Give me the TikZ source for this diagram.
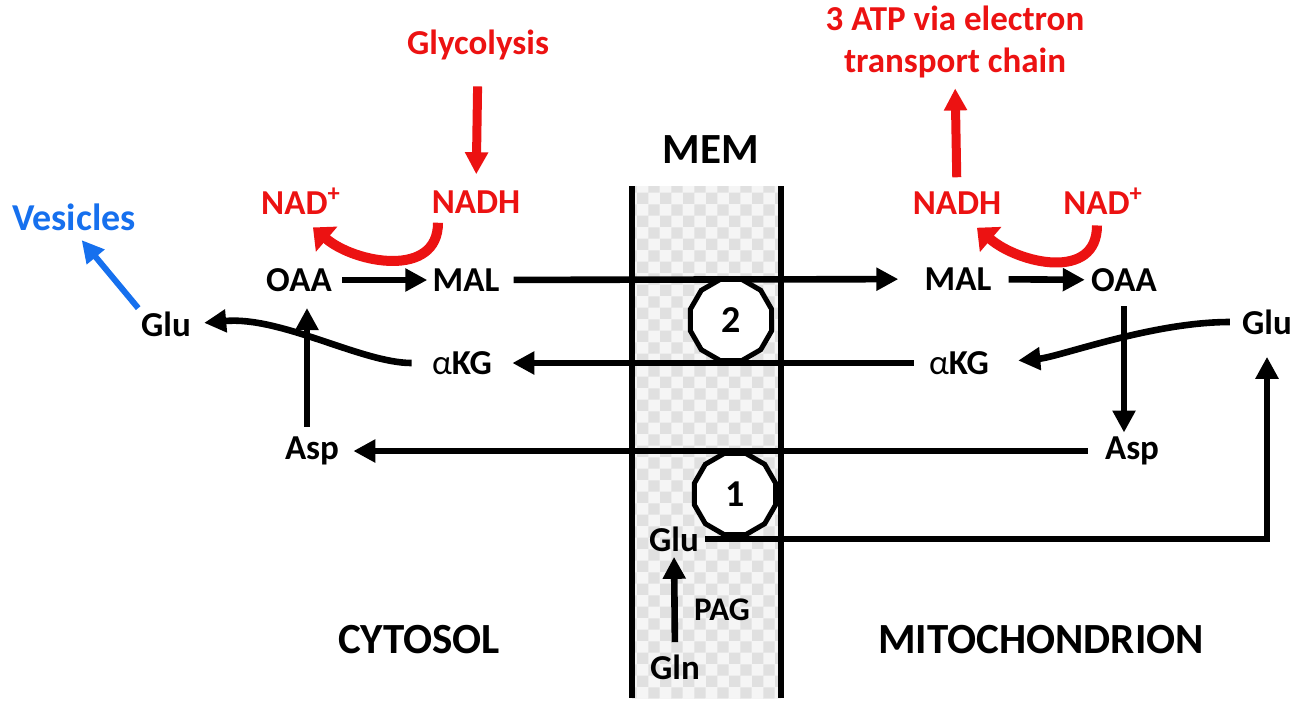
\documentclass[tikz,border=0pt]{standalone}
\usepackage{fontspec}
\setmainfont{Carlito}
\usepackage{tikz}
\usetikzlibrary{arrows.meta,patterns,shapes.geometric}

\definecolor{nadred}{RGB}{236,18,18}
\definecolor{vesblue}{RGB}{22,112,238}

\tikzset{
  met/.style={font=\bfseries\fontsize{17.5}{21}\selectfont, inner sep=0pt},
  redmet/.style={met, text=nadred},
  region/.style={font=\bfseries\fontsize{21.5}{24}\selectfont, inner sep=0pt},
  carrier/.style={draw, line width=2.5pt, fill=white, regular polygon, regular polygon sides=12,
    minimum size=42pt, inner sep=0pt, font=\bfseries\fontsize{19}{20}\selectfont},
  flux/.style={line width=3.3pt, -{Triangle[length=11pt,width=11pt]}},
  redflux/.style={flux, nadred, line width=4.5pt},
  redloop/.style={nadred, line width=5pt, -{Triangle[length=9pt,width=16pt]}},
}

\begin{document}
\begin{tikzpicture}[x=0.5pt,y=-0.5pt]
\useasboundingbox (0,0) rectangle (1300,709);

% membrane
\fill [gray!8] (632,186) rectangle (781,698);
\fill [pattern=checkerboard, pattern color=gray!24] (632,186) rectangle (781,698);
\draw [line width=3pt] (632,186) -- (632,698);
\draw [line width=3pt] (781,186) -- (781,698);

% labels
\node [redmet] (glyc) at (478,45) {Glycolysis};
\node [redmet, align=center] (atp) at (955,42) {3 ATP via electron\\transport chain};
\node [region] (mem) at (711,150) {MEM};
\node [redmet] (nadl) at (301,201) {NAD\textsuperscript{+}};
\node [redmet] (nadhl) at (476,202) {NADH};
\node [redmet] (nadhr) at (957,203) {NADH};
\node [redmet] (nadr) at (1103,201) {NAD\textsuperscript{+}};
\node [met, text=vesblue, font=\bfseries\fontsize{19}{22}\selectfont] (ves) at (74,217) {Vesicles};
\node [met] (oaal) at (299,280) {OAA};
\node [met] (mall) at (466,280) {MAL};
\node [met] (malr) at (958,279) {MAL};
\node [met] (oaar) at (1124,280) {OAA};
\node [met] (glul) at (166,324) {Glu};
\node [met] (akgl) at (462,363) {{\mdseries α}KG};
\node [met] (akgr) at (959,363) {{\mdseries α}KG};
\node [met] (glur) at (1267,322) {Glu};
\node [met] (aspl) at (312,451) {Asp};
\node [met] (aspr) at (1132,451) {Asp};
\node [met] (glum) at (674,539) {Glu};
\node [met] (gln) at (675,667) {Gln};
\node [met, font=\bfseries\fontsize{16.5}{20}\selectfont] (pag) at (722,610) {PAG};
\node [region] (cyt) at (419,640) {CYTOSOL};
\node [region] (mito) at (1041,640) {MITOCHONDRION};

% red arrows
\draw [redflux, shorten <=13pt, shorten >=8pt] (glyc.south) -- (nadhl.north);
\draw [redflux, shorten <=7pt, shorten >=5pt] (nadhr.north) -- (atp.south);
\draw [redloop] ([shift={(-38,9)}]nadhl.south) .. controls +(0,56) and +(42,36) .. ([shift={(12,13)}]nadl.south);
\draw [redloop] ([shift={(-6,11)}]nadr.south) .. controls +(0,56) and +(42,36) .. ([shift={(20,13)}]nadhr.south);

% blue arrow
\draw [flux, vesblue, line width=3pt, shorten <=2pt, shorten >=6pt] (glul.north west) -- (ves.south);

% cytosol
\draw [flux, shorten <=5pt, shorten >=2.5pt] (oaal) -- (mall);
\draw [flux, shorten <=5pt, shorten >=8pt] ([xshift=-2.5pt]aspl.north) -- ([xshift=-2.5pt]aspl.north |- oaal.south);
\draw [flux, shorten <=10pt, shorten >=6.5pt] (akgl.west) .. controls +(-70,0) and +(90,-8) .. (glul.east);

% across the membrane
\draw [flux, shorten <=7pt, shorten >=13pt] (mall) -- (malr);
\draw [flux, shorten <=7.5pt, shorten >=10pt] (akgr) -- (akgl);
\draw [flux, shorten <=8.5pt, shorten >=7pt] (aspr) -- (aspl);
\draw [flux, shorten <=3pt, shorten >=11pt] (glum.east) -| (glur.south);
\draw [flux, shorten <=6pt, shorten >=2.5pt] (gln.north) -- (glum.south);

% mitochondrion
\draw [flux, shorten <=8.5pt, shorten >=3pt] (malr) -- (oaar);
\draw [flux, shorten <=7pt, shorten >=2pt] (oaar.south) -- (oaar.south |- aspr.north);
\draw [flux, shorten <=6pt, shorten >=14.5pt] (glur.west) .. controls +(-90,0) and +(70,-6) .. (akgr.east);

% carriers
\node [carrier] (car2) at (731,320) {2};
\node [carrier] (car1) at (735,494) {1};

\end{tikzpicture}
\end{document}
